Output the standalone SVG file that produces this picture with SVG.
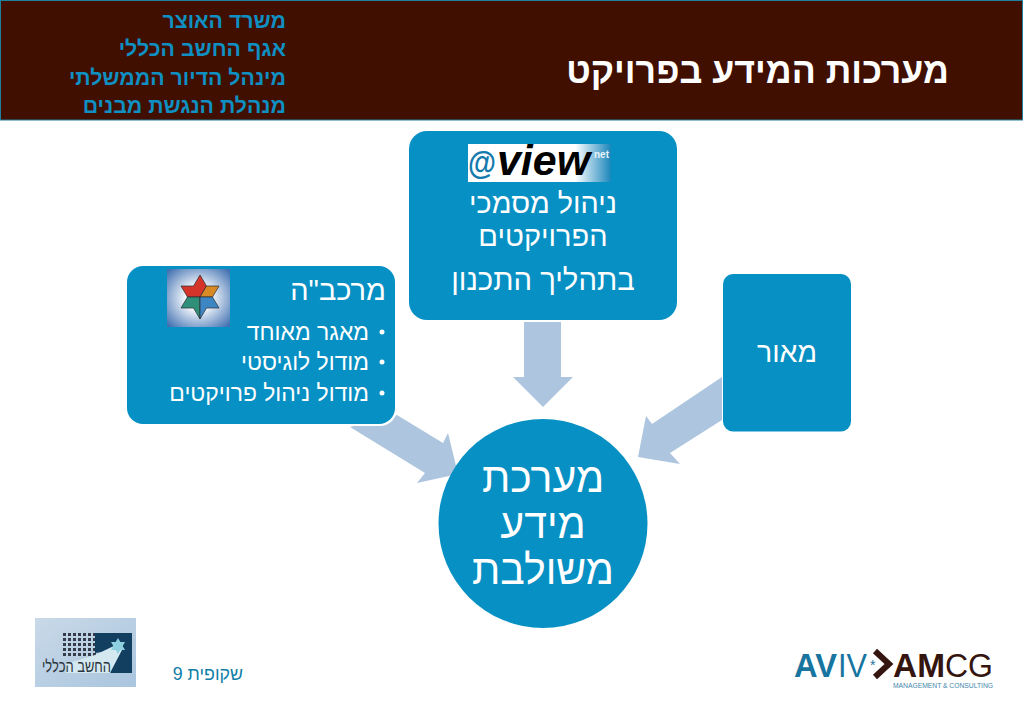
<svg xmlns="http://www.w3.org/2000/svg" width="1023" height="708" viewBox="0 0 1023 708">
<style>
text{font-family:"Liberation Sans",Arial,sans-serif;direction:rtl}
.l{direction:ltr}
.n{fill:#0790c3}
.a{fill:#adc5de}
.w{fill:#fff}
.h{fill:#0f8fc2;font-weight:700;font-size:21.300px}
.m{text-anchor:middle}
</style>
<defs>
<radialGradient id="sg" cx="50%" cy="50%" r="68%"><stop offset="0.3" stop-color="#f4f8fc"/><stop offset="1" stop-color="#3f6fb0"/></radialGradient>
<linearGradient id="vg" x1="0" x2="1" y1="0" y2="0"><stop offset="0.75" stop-color="#ffffff"/><stop offset="1" stop-color="#1b86bb"/></linearGradient>
<linearGradient id="lg" x1="0" x2="1" y1="0" y2="1"><stop offset="0" stop-color="#c9d9e8"/><stop offset="1" stop-color="#a9c5de"/></linearGradient>
<pattern id="dots" width="5" height="5" patternUnits="userSpaceOnUse" x="63" y="633"><rect width="3" height="3" fill="#333c48"/></pattern>
</defs>
<rect width="1023" height="708" fill="#fff"/>
<g id="header">
<rect x="0.5" y="0.5" width="1022" height="119.500" fill="#400f00" stroke="#1f7f9f"/>
<text class="w" x="949" y="82.500" font-size="35.700" font-weight="700">מערכות המידע בפרויקט</text>
<text class="h" x="286" y="28">משרד האוצר</text>
<text class="h" x="286" y="56">אגף החשב הכללי</text>
<text class="h" x="286" y="84.500">מינהל הדיור הממשלתי</text>
<text class="h" x="286" y="113">מנהלת הנגשת מבנים</text>
</g>
<g id="connectors">
<polygon class="a" points="524,322 561,322 561,377 573,377 543,407 513,377 524,377"/>
<polygon class="a" points="397,415 443,443 448,433 458,474 417,483 425,473 350,427"/>
<polygon class="a" points="722,377 652,424 646,416 638,457 680,464 670,453 722,420"/>
</g>
<g id="node-view">
<rect class="n" x="409" y="131" width="268" height="189" rx="18"/>
<rect x="468" y="144" width="143" height="38" fill="url(#vg)"/>
<text class="l" x="468" y="174" font-size="34" font-weight="700" fill="#1479ad" textLength="28" lengthAdjust="spacingAndGlyphs">@</text>
<text class="l" x="497" y="175" font-size="43" font-weight="700" font-style="italic" fill="#000" textLength="93" lengthAdjust="spacingAndGlyphs">view</text>
<text class="l" x="594" y="158" font-size="10" font-weight="700" fill="#e8f2f8">net</text>
<text class="w m" x="543" y="213" font-size="28.800">ניהול מסמכי</text>
<text class="w m" x="543" y="246" font-size="29">הפרויקטים</text>
<text class="w m" x="543" y="290" font-size="29.300">בתהליך התכנון</text>
</g>
<g id="node-merkava">
<rect x="127" y="266" width="270" height="160" rx="17" fill="#fff"/>
<rect class="n" x="127" y="266" width="268" height="158" rx="16"/>
<rect x="167" y="269" width="63" height="58" fill="url(#sg)"/>
<g stroke="#2a2a30" stroke-width="0.700">
<polygon points="200,275 206.500,286 200,297 187.500,297 181,286 193.500,286" fill="#d4342a"/>
<polygon points="206.500,286 219,286 212.500,297 200,297" fill="#d98a24"/>
<polygon points="187.500,297 200,297 200,319 193.500,308 181,308" fill="#2f8f78"/>
<polygon points="200,297 212.500,297 219,308 206.500,308 200,319" fill="#3c86c4"/>
</g>
<text class="w" x="386" y="300" font-size="29">מרכב"ה</text>
<text class="w" x="369" y="340" font-size="22.900">מאגר מאוחד</text>
<text class="w" x="369" y="370" font-size="22.900">מודול לוגיסטי</text>
<text class="w" x="369" y="401" font-size="22.900">מודול ניהול פרויקטים</text>
<circle class="w" cx="382" cy="332" r="2.500"/>
<circle class="w" cx="382" cy="362" r="2.500"/>
<circle class="w" cx="382" cy="393" r="2.500"/>
</g>
<g id="node-maor">
<rect class="n" x="723" y="274" width="128" height="157.500" rx="10"/>
<text class="w m" x="787" y="362" font-size="28.500">מאור</text>
</g>
<g id="node-center">
<circle class="n" cx="543" cy="523.500" r="104.500"/>
<text class="w m" x="543" y="492" font-size="41">מערכת</text>
<text class="w m" x="543" y="538" font-size="41">מידע</text>
<text class="w m" x="543" y="584" font-size="41">משולבת</text>
</g>
<g id="footer">
<text x="243" y="680" font-size="17.800" fill="#0f7fa8">שקופית 9</text>
<rect x="35" y="618" width="101" height="69" fill="url(#lg)"/>
<rect x="63" y="633" width="34" height="25" fill="url(#dots)"/>
<polygon points="95,633 132,633 132,673 110,673 118,650 95,653" fill="#123f60"/>
<polygon points="66,673 66,664 95,655 118,644 122,650 110,673" fill="#d4e8f0"/>
<polygon points="118,638 125,650 111,650" fill="#8fd0e0"/>
<polygon points="118,654 125,642 111,642" fill="#8fd0e0"/>
<text x="111" y="672" font-size="17" fill="#2b3540" textLength="69" lengthAdjust="spacingAndGlyphs">החשב הכללי</text>
<text class="l" x="794" y="677" font-size="33" font-weight="700" fill="#17759f" textLength="43" lengthAdjust="spacingAndGlyphs">AV</text>
<text class="l" x="838" y="677" font-size="33" fill="#17759f" textLength="29" lengthAdjust="spacingAndGlyphs">IV</text>
<text class="l" x="870" y="670" font-size="14" fill="#17759f">*</text>
<text class="l" x="893" y="677" font-size="33" font-weight="700" fill="#35150f" textLength="52" lengthAdjust="spacingAndGlyphs">AM</text>
<text class="l" x="945" y="677" font-size="33" fill="#35150f" textLength="48" lengthAdjust="spacingAndGlyphs">CG</text>
<text class="l" x="893" y="688" font-size="7" fill="#3f88ac" textLength="100" lengthAdjust="spacingAndGlyphs">MANAGEMENT &amp; CONSULTING</text>
<polyline points="875,651 889,664 875,677" fill="none" stroke="#35150f" stroke-width="6"/>
</g>
</svg>
